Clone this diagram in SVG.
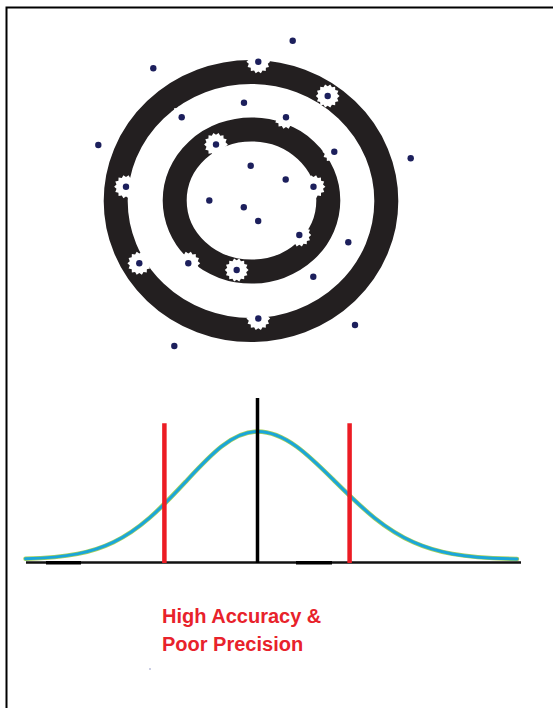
<svg xmlns="http://www.w3.org/2000/svg" width="553" height="708" viewBox="0 0 553 708">
<style>
.ring{fill:none;stroke:#231f20;stroke-width:24}
.dot{fill:#1c1f5c}
.gear{fill:#ffffff}
.red{stroke:#ec1c24;stroke-width:4.5}
.lbl{font-family:"Liberation Sans",Arial,sans-serif;font-weight:bold;font-size:20px;fill:#e8222b}
</style>
<defs>
<polygon id="gearShape" transform="scale(1.08)" points="11,0 8.8,2 9.9,4.8 7,5.6 6.9,8.6 3.9,8.1 2.4,10.7 0,9 -2.4,10.7 -3.9,8.1 -6.9,8.6 -7,5.6 -9.9,4.8 -8.8,2 -11,0 -8.8,-2 -9.9,-4.8 -7,-5.6 -6.9,-8.6 -3.9,-8.1 -2.4,-10.7 0,-9 2.4,-10.7 3.9,-8.1 6.9,-8.6 7,-5.6 9.9,-4.8 8.8,-2"/>
<path id="bell" fill="none" stroke-linecap="round" d="M25.5,558.8 C42.8,558.3 60.2,557.3 77.5,553.9 C89.5,551.6 101.5,548 113.5,542.2 C125.5,536.4 137.5,528.3 149.5,517.9 C161.5,507.5 173.5,494.8 185.5,481.9 C197.5,469 209.5,455.9 221.5,446.5 C233.5,437.1 245.5,431.5 257.5,431.5 C270.5,431.5 283.5,437.1 296.5,446.5 C309.5,455.9 322.5,469 335.5,481.9 C348.5,494.8 361.5,507.5 374.5,517.9 C387.5,528.3 400.5,536.4 413.5,542.2 C426.5,548 439.5,551.6 452.5,553.9 C474,557.8 495.5,558.6 517,559"/>
</defs>
<rect width="553" height="708" fill="#ffffff"/>
<path id="frame" d="M6.5,708 V7.5 H553" fill="none" stroke="#000" stroke-width="2"/>
<g id="target">
<ellipse class="ring" cx="251" cy="201" rx="135.3" ry="129"/>
<ellipse class="ring" cx="251.5" cy="200.5" rx="76.8" ry="71.1"/>
</g>
<g id="gears">
<use href="#gearShape" class="gear" x="258.3" y="61.7"/>
<use href="#gearShape" class="gear" x="327.7" y="96"/>
<use href="#gearShape" class="gear" x="181.7" y="117.3"/>
<use href="#gearShape" class="gear" x="286" y="117.3"/>
<use href="#gearShape" class="gear" x="216" y="144.5"/>
<use href="#gearShape" class="gear" x="334.3" y="151.7"/>
<use href="#gearShape" class="gear" x="126" y="186.7"/>
<use href="#gearShape" class="gear" x="313.5" y="186.7"/>
<use href="#gearShape" class="gear" x="299.3" y="235"/>
<use href="#gearShape" class="gear" x="139.3" y="263.3"/>
<use href="#gearShape" class="gear" x="188.3" y="263.3"/>
<use href="#gearShape" class="gear" x="236.7" y="270"/>
<use href="#gearShape" class="gear" x="258.3" y="318.5"/>
</g>
<g id="dots">
<circle class="dot" cx="292.7" cy="40.7" r="3.2"/>
<circle class="dot" cx="258.3" cy="61.7" r="3.2"/>
<circle class="dot" cx="153.3" cy="68.3" r="3.2"/>
<circle class="dot" cx="327.7" cy="96" r="3.2"/>
<circle class="dot" cx="244" cy="102.7" r="3.2"/>
<circle class="dot" cx="181.7" cy="117.3" r="3.2"/>
<circle class="dot" cx="286" cy="117.3" r="3.2"/>
<circle class="dot" cx="98.3" cy="145" r="3.2"/>
<circle class="dot" cx="216" cy="144.5" r="3.2"/>
<circle class="dot" cx="334.3" cy="151.7" r="3.2"/>
<circle class="dot" cx="410.7" cy="158.3" r="3.2"/>
<circle class="dot" cx="250.7" cy="165.7" r="3.2"/>
<circle class="dot" cx="126" cy="186.7" r="3.2"/>
<circle class="dot" cx="285.7" cy="179.5" r="3.2"/>
<circle class="dot" cx="313.5" cy="186.7" r="3.2"/>
<circle class="dot" cx="209.3" cy="200.5" r="3.2"/>
<circle class="dot" cx="243.8" cy="207.3" r="3.2"/>
<circle class="dot" cx="258.2" cy="221" r="3.2"/>
<circle class="dot" cx="299.3" cy="235" r="3.2"/>
<circle class="dot" cx="348.3" cy="242.3" r="3.2"/>
<circle class="dot" cx="139.3" cy="263.3" r="3.2"/>
<circle class="dot" cx="188.3" cy="263.3" r="3.2"/>
<circle class="dot" cx="236.7" cy="270" r="3.2"/>
<circle class="dot" cx="313.3" cy="276.7" r="3.2"/>
<circle class="dot" cx="258.3" cy="318.5" r="3.2"/>
<circle class="dot" cx="355" cy="325" r="3.2"/>
<circle class="dot" cx="174.3" cy="346" r="3.2"/>
<circle cx="150" cy="669" r="0.8" fill="#8a8fc0"/>
</g>
<g id="chart">
<use href="#bell" stroke="#a6cf5a" stroke-width="4.5"/>
<use href="#bell" stroke="#1ba6d9" stroke-width="3"/>
<line x1="26" y1="562.5" x2="521" y2="562.5" stroke="#111" stroke-width="2.5"/>
<line x1="46" y1="562.8" x2="81" y2="562.8" stroke="#000" stroke-width="3.5"/>
<line x1="296" y1="562.8" x2="332" y2="562.8" stroke="#000" stroke-width="3.5"/>
<line class="red" x1="164.4" y1="423.3" x2="164.4" y2="563"/>
<line class="red" x1="349.6" y1="423.3" x2="349.6" y2="563"/>
<line x1="257.5" y1="398" x2="257.5" y2="563" stroke="#000" stroke-width="3.5"/>
</g>
<g id="label">
<text class="lbl" x="162" y="623">High Accuracy &amp;</text>
<text class="lbl" x="162" y="651">Poor Precision</text>
</g>
</svg>
